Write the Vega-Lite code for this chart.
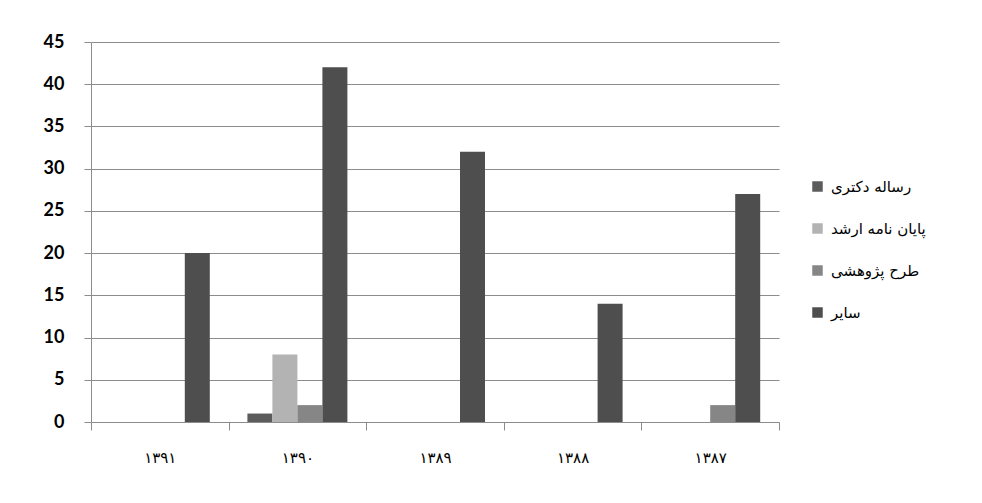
{
  "$schema": "https://vega.github.io/schema/vega-lite/v6.json",
  "width": 688,
  "height": 380,
  "autosize": {"type": "none"},
  "padding": {"left": 91, "top": 42, "right": 203, "bottom": 81},
  "background": "white",
  "data": {
    "values": [
      {"year": "۱۳۹۱", "series": "رساله دکتری", "value": 0},
      {"year": "۱۳۹۱", "series": "پایان نامه ارشد", "value": 0},
      {"year": "۱۳۹۱", "series": "طرح پژوهشی", "value": 0},
      {"year": "۱۳۹۱", "series": "سایر", "value": 20},
      {"year": "۱۳۹۰", "series": "رساله دکتری", "value": 1},
      {"year": "۱۳۹۰", "series": "پایان نامه ارشد", "value": 8},
      {"year": "۱۳۹۰", "series": "طرح پژوهشی", "value": 2},
      {"year": "۱۳۹۰", "series": "سایر", "value": 42},
      {"year": "۱۳۸۹", "series": "رساله دکتری", "value": 0},
      {"year": "۱۳۸۹", "series": "پایان نامه ارشد", "value": 0},
      {"year": "۱۳۸۹", "series": "طرح پژوهشی", "value": 0},
      {"year": "۱۳۸۹", "series": "سایر", "value": 32},
      {"year": "۱۳۸۸", "series": "رساله دکتری", "value": 0},
      {"year": "۱۳۸۸", "series": "پایان نامه ارشد", "value": 0},
      {"year": "۱۳۸۸", "series": "طرح پژوهشی", "value": 0},
      {"year": "۱۳۸۸", "series": "سایر", "value": 14},
      {"year": "۱۳۸۷", "series": "رساله دکتری", "value": 0},
      {"year": "۱۳۸۷", "series": "پایان نامه ارشد", "value": 0},
      {"year": "۱۳۸۷", "series": "طرح پژوهشی", "value": 2},
      {"year": "۱۳۸۷", "series": "سایر", "value": 27}
    ]
  },
  "mark": {"type": "bar"},
  "encoding": {
    "x": {
      "field": "year",
      "type": "nominal",
      "sort": ["۱۳۹۱", "۱۳۹۰", "۱۳۸۹", "۱۳۸۸", "۱۳۸۷"],
      "scale": {"paddingInner": 0, "paddingOuter": 0},
      "axis": {
        "title": null,
        "labelAngle": 0,
        "tickBand": "extent",
        "tickSize": 8,
        "tickColor": "#8c8c8c",
        "domainColor": "#8c8c8c",
        "labelPadding": 20,
        "labelFont": "DejaVu Sans",
        "labelFontSize": 15,
        "labelColor": "#000000",
        "grid": false
      }
    },
    "xOffset": {
      "field": "series",
      "type": "nominal",
      "sort": ["رساله دکتری", "پایان نامه ارشد", "طرح پژوهشی", "سایر"],
      "scale": {"paddingInner": 0, "paddingOuter": 0.752}
    },
    "y": {
      "field": "value",
      "type": "quantitative",
      "scale": {"domain": [0, 45], "nice": false},
      "axis": {
        "title": null,
        "values": [0, 5, 10, 15, 20, 25, 30, 35, 40, 45],
        "tickSize": 7,
        "tickColor": "#8c8c8c",
        "domainColor": "#8c8c8c",
        "gridColor": "#8c8c8c",
        "gridWidth": 1,
        "labelPadding": 20,
        "labelFont": "Lato",
        "labelFontWeight": "bold",
        "labelFontSize": 18,
        "labelColor": "#000000"
      }
    },
    "color": {
      "field": "series",
      "type": "nominal",
      "scale": {
        "domain": ["رساله دکتری", "پایان نامه ارشد", "طرح پژوهشی", "سایر"],
        "range": ["#5c5c5c", "#b3b3b3", "#868686", "#4e4e4e"]
      },
      "legend": {
        "title": null,
        "orient": "none",
        "legendX": 719,
        "legendY": 137,
        "symbolType": "square",
        "symbolSize": 110,
        "symbolStrokeWidth": 0,
        "rowPadding": 26,
        "labelFont": "DejaVu Sans",
        "labelFontSize": 15,
        "labelColor": "#000000",
        "labelOffset": 6
      }
    }
  },
  "config": {
    "view": {"stroke": null}
  }
}
